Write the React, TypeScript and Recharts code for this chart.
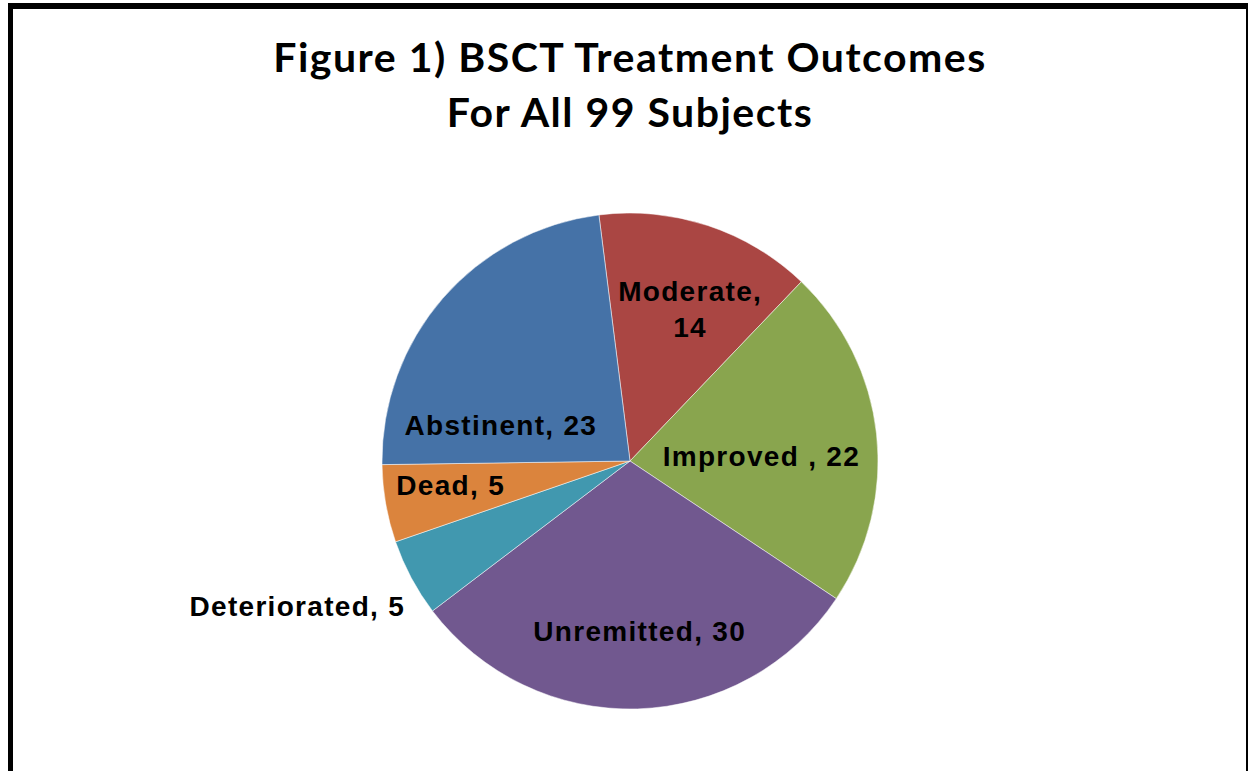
import { PieChart, Pie, Cell, Customized } from 'recharts'

const categories = ['Moderate', 'Improved ', 'Unremitted', 'Deteriorated', 'Dead', 'Abstinent']
const subjects = [14, 22, 30, 5, 5, 23]
const sliceColors = ['#AA4643', '#89A54E', '#71588F', '#4198AF', '#DB843D', '#4572A7']
const titleLines = ['Figure 1) BSCT Treatment Outcomes', 'For All 99 Subjects']

const data = categories.map((name, i) => ({ name, value: subjects[i] }))

// where Excel's "best fit" put each label: radius as a share of the pie radius,
// a turn (degrees, counter-clockwise) away from the slice middle, and alignment
const labelPlacement = [
  { r: 0.66, turn: -3.3, anchor: 'middle', wrap: true },
  { r: 0.53, turn: -4.2, anchor: 'middle', wrap: false },
  { r: 0.69, turn: 1.5, anchor: 'middle', wrap: false },
  { r: 1.08, turn: 4.8, anchor: 'end', wrap: false },
  { r: 0.73, turn: -2, anchor: 'middle', wrap: false },
  { r: 0.54, turn: 25.6, anchor: 'middle', wrap: false },
]

const W = 1249
const H = 771
const RAD = Math.PI / 180
const labelFont = '"Liberation Sans", Arial, sans-serif'

function SliceLabel(props: any) {
  const { cx, cy, midAngle, outerRadius, index, name, value } = props
  const p = labelPlacement[index]
  const a = (midAngle + p.turn) * RAD
  const x = cx + outerRadius * p.r * Math.cos(a)
  const y = cy - outerRadius * p.r * Math.sin(a)
  const style = { fontFamily: labelFont, fontWeight: 700, fontSize: 28, letterSpacing: 1.3, fill: '#000' }
  if (p.wrap) {
    return (
      <text x={x} y={y} textAnchor={p.anchor} style={style}>
        <tspan x={x} dy={-8}>{name},</tspan>
        <tspan x={x} dy={36}>{value}</tspan>
      </text>
    )
  }
  return (
    <text x={x} y={y} textAnchor={p.anchor} dominantBaseline="central" style={style}>
      {name}, {value}
    </text>
  )
}

function Title() {
  return (
    <g>
      {titleLines.map((t, i) => (
        <text
          key={t}
          x={630}
          y={72 + i * 55}
          textAnchor="middle"
          style={{ fontFamily: 'Lato, "Open Sans", sans-serif', fontWeight: 700, fontSize: 41, letterSpacing: 1.5, fill: '#000' }}
        >
          {t}
        </text>
      ))}
    </g>
  )
}

export default function App() {
  return (
    <div style={{ position: 'absolute', left: 0, top: 0, width: W, height: H, background: '#fff', overflow: 'hidden' }}>
      <div
        style={{
          position: 'absolute',
          left: 8,
          top: 3,
          width: 1233,
          height: 800,
          borderLeft: '5px solid #000',
          borderTop: '6px solid #000',
          borderRight: '2px solid #000',
        }}
      />
      <div style={{ position: 'absolute', left: 0, top: 0 }}>
        <PieChart width={W} height={H} margin={{ top: 0, right: 0, bottom: 0, left: 0 }}>
          <Customized component={Title} />
          <Pie
            data={data}
            dataKey="value"
            nameKey="name"
            cx={630}
            cy={461}
            outerRadius={248}
            startAngle={97.2}
            endAngle={-262.8}
            stroke="#fff"
            strokeWidth={0.5}
            label={SliceLabel}
            labelLine={false}
            isAnimationActive={false}
          >
            {data.map((d, i) => (
              <Cell key={d.name} fill={sliceColors[i]} />
            ))}
          </Pie>
        </PieChart>
      </div>
    </div>
  )
}
